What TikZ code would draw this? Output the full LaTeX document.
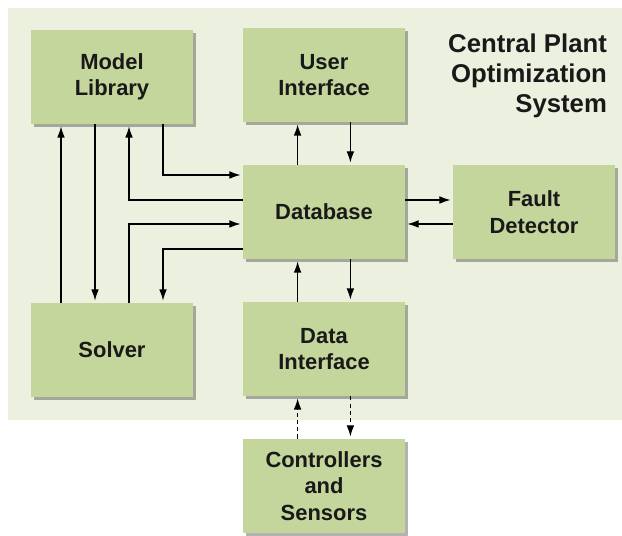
\documentclass[tikz,border=0pt]{standalone}
\usepackage{fontspec}
\setmainfont{Liberation Sans}
\usepackage{tikz}
\usetikzlibrary{positioning}
\usetikzlibrary{arrows.meta}
\usetikzlibrary{shadows}
\definecolor{panelc}{RGB}{235,241,222}
\definecolor{blockc}{RGB}{196,214,155}
\colorlet{textc}{black!90}

\tikzset{
  block/.style={fill=blockc, shape=rectangle, minimum height=2.35cm, minimum width=4.05cm,
    align=center, text=textc, font=\bfseries\fontsize{15.6}{18.8}\selectfont,
    drop shadow={shadow xshift=0.07cm, shadow yshift=-0.07cm, opacity=0.3, fill=black}},
  link/.style={draw=black, line width=0.9pt, shorten >=1.5pt, -{Latex[length=8pt,width=5.5pt]}},
  dashlink/.style={link, dash pattern=on 3pt off 2.2pt}
}

\begin{document}
\begin{tikzpicture}[scale=1.0]
\useasboundingbox (0cm,0cm) rectangle (15.55cm,13.4cm);
\fill[panelc] (0.2cm,2.9cm) rectangle (15.55cm,13.2cm);

\node[block] (model) at (2.8cm,11.475cm) {Model\\Library};
\node[block] (user) at (8.1cm,11.525cm) {User\\Interface};
\node[block] (database) at (8.1cm,8.1cm) {Database};
\node[block] (fault) at (13.35cm,8.1cm) {Fault\\Detector};
\node[block] (solver) at (2.8cm,4.65cm) {Solver};
\node[block] (datainterface) at (8.1cm,4.675cm) {Data\\Interface};
\node[block] (sensors) at (8.1cm,1.25cm) {Controllers\\and\\Sensors};

\node[anchor=east, align=right, inner sep=0pt, text=textc, font=\bfseries\fontsize{18.3}{21.3}\selectfont]
(title) at (15.18cm,11.5cm) {Central Plant\\Optimization\\System};

% model library <-> solver
\draw[link] ([xshift=-1.275cm]solver.north) -- ([xshift=-1.275cm]model.south);
\draw[link] ([xshift=-0.425cm]model.south) -- ([xshift=-0.425cm]solver.north);
% model library / solver <-> database
\draw[link] ([yshift=0.3cm]database.west) -| ([xshift=0.425cm]model.south);
\draw[link] ([xshift=0.425cm]solver.north) |- ([yshift=-0.3cm]database.west);
\draw[link] ([xshift=1.275cm]model.south) |- ([yshift=0.925cm]database.west);
\draw[link] ([yshift=-0.925cm]database.west) -| ([xshift=1.275cm]solver.north);

% user interface <-> database
\draw[link] ([xshift=-0.66cm]database.north) -- ([xshift=-0.66cm]user.south);
\draw[link] ([xshift=0.66cm]user.south) -- ([xshift=0.66cm]database.north);
% database <-> fault detector
\draw[link] ([yshift=0.3cm]database.east) -- ([yshift=0.3cm]fault.west);
\draw[link] ([yshift=-0.3cm]fault.west) -- ([yshift=-0.3cm]database.east);
% database <-> data interface
\draw[link] ([xshift=-0.66cm]datainterface.north) -- ([xshift=-0.66cm]database.south);
\draw[link] ([xshift=0.66cm]database.south) -- ([xshift=0.66cm]datainterface.north);
% data interface <-> controllers
\draw[dashlink] ([xshift=-0.66cm]sensors.north) -- ([xshift=-0.66cm]datainterface.south);
\draw[dashlink] ([xshift=0.66cm]datainterface.south) -- ([xshift=0.66cm]sensors.north);

\end{tikzpicture}
\end{document}
